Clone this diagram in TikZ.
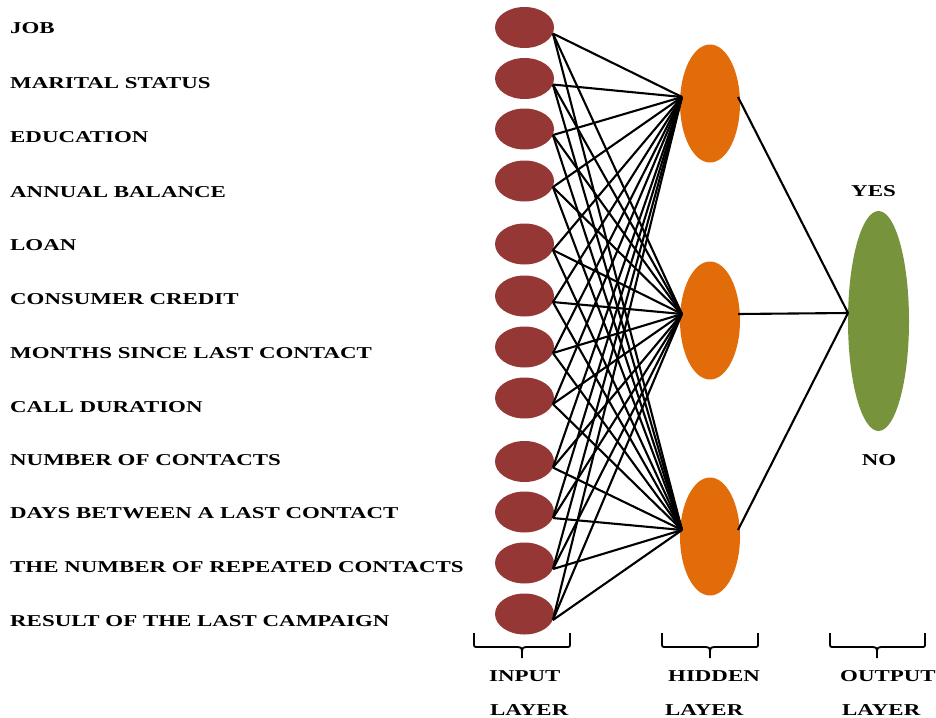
\documentclass[tikz,border=0pt]{standalone}
\usepackage{fontspec}
\setmainfont{Liberation Serif}
\usetikzlibrary{shapes.geometric,calc}
\definecolor{inred}{RGB}{149,55,53}
\definecolor{hidorange}{RGB}{227,108,10}
\definecolor{outgreen}{RGB}{119,147,60}
\newcommand{\lbltxt}[1]{\scalebox{1.38}[1]{\bfseries #1}}
\tikzset{
  innode/.style={ellipse, fill=inred, minimum width=59pt, minimum height=41pt, inner sep=0pt},
  hidnode/.style={ellipse, fill=hidorange, minimum width=60pt, minimum height=118pt, inner sep=0pt},
  outnode/.style={ellipse, fill=outgreen, minimum width=61pt, minimum height=220pt, inner sep=0pt},
  conn/.style={line width=2.1pt, black},
  bracestyle/.style={line width=1.8pt, black},
  featlbl/.style={anchor=base west, inner sep=0pt, font=\fontsize{16.6}{20}\selectfont},
  midlbl/.style={anchor=base, inner sep=0pt, font=\fontsize{16.6}{20}\selectfont},
}
\begin{document}
\begin{tikzpicture}[x=1pt,y=-1pt]
\useasboundingbox (0,0) rectangle (936,717);
% input nodes
\foreach \i/\y in {1/27.5,2/78.5,3/129,4/181,5/244,6/296,7/347,8/398,9/461.5,10/512,11/563,12/614}{
  \node[innode] (in\i) at (524.5,\y) {};
}
% hidden nodes
\node[hidnode] (h1) at (710,103.5) {};
\node[hidnode] (h2) at (710,320.5) {};
\node[hidnode] (h3) at (710,536.5) {};
% output node
\node[outnode] (o) at (878.5,321) {};
% connection points
\foreach \h in {1,2,3}{
  \coordinate (h\h L) at ($(h\h.center)+(-28,-6.5)$);
  \coordinate (h\h R) at ($(h\h.center)+(28,-6.5)$);
}
\coordinate (oL) at ($(o.center)+(-30.5,-8)$);
% connectors
\foreach \i in {1,...,12}{
  \foreach \h in {1,2,3}{
    \draw[conn] (in\i.-12) -- (h\h L);
  }
}
\foreach \h in {1,2,3}{
  \draw[conn] (h\h R) -- (oL);
}
% feature labels
\foreach \t/\b in {JOB/34, MARITAL STATUS/88, EDUCATION/142, ANNUAL BALANCE/197, LOAN/250, CONSUMER CREDIT/304, MONTHS SINCE LAST CONTACT/358, CALL DURATION/412, NUMBER OF CONTACTS/465, DAYS BETWEEN A LAST CONTACT/518, THE NUMBER OF REPEATED CONTACTS/572, RESULT OF THE LAST CAMPAIGN/626}{
  \node[featlbl] at (10,\b) {\lbltxt{\t}};
}
% output labels
\node[midlbl] (yes) at (873.5,196) {\lbltxt{YES}};
\node[midlbl] (no) at (879,465) {\lbltxt{NO}};
% braces
\foreach \a/\c/\b in {474/522/570, 662/710/758, 830/877/925}{
  \draw[bracestyle] (\a,633) -- (\a,643) .. controls (\a,647) and (\a,647) .. (\a+4,647) -- (\c-5,647) .. controls (\c-1,647) and (\c,648) .. (\c,652) -- (\c,658) -- (\c,652) .. controls (\c,648) and (\c+1,647) .. (\c+5,647) -- (\b-4,647) .. controls (\b,647) and (\b,647) .. (\b,643) -- (\b,633);
}
% layer labels
\node[featlbl] (inl1) at (489,681) {\lbltxt{INPUT}};
\node[featlbl] (inl2) at (490,715) {\lbltxt{LAYER}};
\node[featlbl] (hl1) at (668,681) {\lbltxt{HIDDEN}};
\node[featlbl] (hl2) at (665,715) {\lbltxt{LAYER}};
\node[featlbl] (ol1) at (840,681) {\lbltxt{OUTPUT}};
\node[featlbl] (ol2) at (842,715) {\lbltxt{LAYER}};
\end{tikzpicture}
\end{document}
